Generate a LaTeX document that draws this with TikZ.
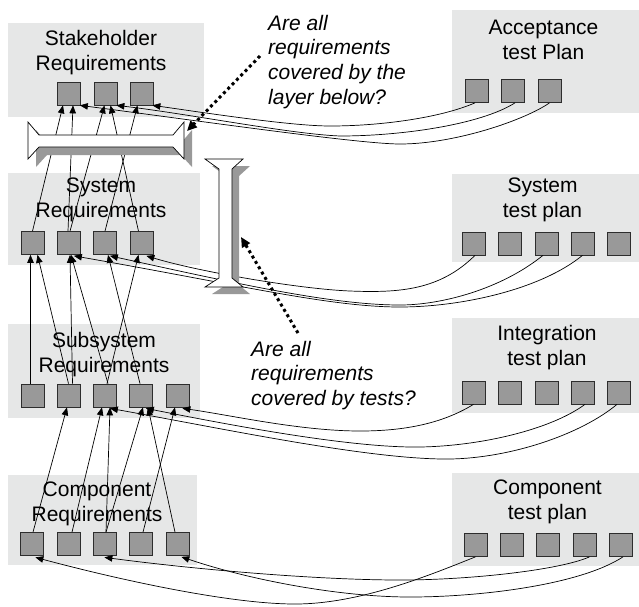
\documentclass[tikz,border=0pt]{standalone}
\usepackage{fontspec}
\setmainfont{Liberation Sans}
\usetikzlibrary{arrows.meta}
\definecolor{boxbg}{RGB}{230,231,231}
\definecolor{sqfill}{RGB}{153,153,153}
\definecolor{sqline}{RGB}{45,45,45}
\definecolor{shade}{RGB}{153,153,153}
\begin{document}
\begin{tikzpicture}[x=1pt,y=-1pt,
  panel/.style={fill=boxbg, draw=none, inner sep=0pt},
  sq/.style={draw=sqline, fill=sqfill, minimum size=23pt, inner sep=0pt, line width=0.7pt},
  lbl/.style={align=center, anchor=north, inner sep=0pt, font=\fontsize{21}{25}\selectfont},
  qtext/.style={align=left, anchor=north west, inner sep=0pt, font=\fontsize{21}{24.8}\selectfont\itshape},
  link/.style={-{Triangle[length=8pt,width=6.5pt]}, line width=0.7pt},
  beam/.style={draw=black, fill=white, line width=0.7pt},
  beamshadow/.style={fill=shade, draw=none},
  dotarrow/.style={line width=3pt, dash pattern=on 3pt off 3.2pt, -{Triangle[length=10pt,width=9pt]}}
]
\useasboundingbox (0,0) rectangle (639,606);

% panels
\node[panel, minimum width=196pt, minimum height=94pt] (shbox) at (106,70) {};
\node[panel, minimum width=192pt, minimum height=92pt] (sysbox) at (104,219) {};
\node[panel, minimum width=192pt, minimum height=94pt] (subbox) at (104,371) {};
\node[panel, minimum width=189pt, minimum height=90pt] (compbox) at (102.5,520) {};
\node[panel, minimum width=187pt, minimum height=103pt] (accbox) at (545.5,61.5) {};
\node[panel, minimum width=187pt, minimum height=88pt] (stbox) at (545.5,218) {};
\node[panel, minimum width=187pt, minimum height=95pt] (itbox) at (545.5,365.5) {};
\node[panel, minimum width=187pt, minimum height=93pt] (ctbox) at (545.5,519.5) {};

% labels
\node[lbl] (shlbl) at (101,29.7) {Stakeholder\\Requirements};
\node[lbl] (syslbl) at (101,177.7) {System\\Requirements};
\node[lbl] (sublbl) at (104,331.7) {Subsystem\\Requirements};
\node[lbl] (complbl) at (97,481.7) {Component\\Requirements};
\node[lbl] (acclbl) at (543.5,19.7) {Acceptance\\test Plan};
\node[lbl] (stlbl) at (542.5,177.7) {System\\test plan};
\node[lbl] (itlbl) at (547,324.7) {Integration\\test plan};
\node[lbl] (ctlbl) at (547.5,479.7) {Component\\test plan};

% squares
\foreach \n/\x in {1/69,2/105.5,3/141.5} \node[sq] (sh\n) at (\x,93.5) {};
\foreach \n/\x in {1/32.5,2/69,3/105,4/141.5} \node[sq] (sys\n) at (\x,243) {};
\foreach \n/\x in {1/32.5,2/68.5,3/105,4/141,5/177.5} \node[sq] (sub\n) at (\x,395.5) {};
\foreach \n/\x in {1/31.5,2/68.5,3/104.5,4/140.5,5/177.5} \node[sq] (comp\n) at (\x,544) {};
\foreach \n/\x in {1/476.5,2/512.5,3/549.5} \node[sq] (acc\n) at (\x,91) {};
\foreach \n/\x in {1/473.5,2/509.5,3/546.5,4/582.5,5/618.5} \node[sq] (st\n) at (\x,243.5) {};
\foreach \n/\x in {1/473.5,2/509.5,3/546.5,4/582.5,5/618.5} \node[sq] (it\n) at (\x,392.5) {};
\foreach \n/\x in {1/475.5,2/511.5,3/547.5,4/584.5,5/620.5} \node[sq] (ct\n) at (\x,545) {};

% system -> stakeholder
\draw[link] (sys1.north) -- ([xshift=-6pt]sh1.south);
\draw[link] ([xshift=-1pt]sys2.north) -- ([xshift=4pt]sh1.south);
\draw[link] ([xshift=1pt]sys2.north) -- ([xshift=-1pt]sh2.south);
\draw[link] (sys3.north) -- ([xshift=-4pt]sh3.south);
\draw[link] ([xshift=-3pt]sys4.north) -- ([xshift=5pt]sh2.south);

% subsystem -> system
\draw[link] ([xshift=-2pt]sub1.north) -- ([xshift=-2pt]sys1.south);
\draw[link] (sub2.north) -- ([xshift=5pt]sys1.south);
\draw[link] ([xshift=4pt]sub2.north) -- ([xshift=1pt]sys2.south);
\draw[link] ([xshift=3pt]sub3.north) -- ([xshift=2pt]sys2.south);
\draw[link] ([xshift=2pt]sub3.north) -- ([xshift=-3pt]sys4.south);
\draw[link] ([xshift=-1pt]sub4.north) -- ([xshift=3pt]sys3.south);

% component -> subsystem
\draw[link] ([xshift=1.5pt]comp1.north) -- ([xshift=-1.5pt]sub2.south);
\draw[link] ([xshift=3.5pt]comp2.north) -- ([xshift=-3pt]sub3.south);
\draw[link] ([xshift=1.5pt]comp3.north) -- ([xshift=5pt]sub3.south);
\draw[link] ([xshift=1.5pt]comp3.north) -- ([xshift=2pt]sub4.south);
\draw[link] ([xshift=-2.5pt]comp5.north) -- ([xshift=7pt]sub4.south);
\draw[link] ([xshift=2.5pt]comp4.north) -- ([xshift=-2.5pt]sub5.south);

% acceptance -> stakeholder
\draw[link] ([xshift=-1.5pt]acc1.south) .. controls (440,118) and (380,126) .. (330,126)
  .. controls (290,126) and (200,112) .. ([xshift=-1pt]sh3.south east);
\draw[link] ([xshift=2.5pt]acc2.south) .. controls (480,125) and (400,136) .. (340,136)
  .. controls (290,134) and (190,114) .. ([xshift=-1pt]sh2.south east);
\draw[link] (acc3.south) .. controls (525,120) and (455,144) .. (400,144)
  .. controls (360,144) and (200,121) .. ([xshift=-1pt]sh1.south east);

% system test -> system
\draw[link] ([xshift=1.5pt]st1.south) .. controls (440,290) and (400,293) .. (350,291)
  .. controls (300,289) and (200,272) .. ([xshift=-7pt,yshift=-1pt]sys4.south east);
\draw[link] ([xshift=-3.5pt]st3.south) .. controls (500,290) and (440,305) .. (400,305)
  .. controls (330,305) and (230,282) .. ([xshift=-7pt,yshift=-1pt]sys3.south east);
\draw[link] (st4.south) .. controls (540,290) and (460,307) .. (400,307)
  .. controls (330,307) and (240,285) .. ([xshift=-7pt,yshift=-1pt]sys2.south east);

% integration -> subsystem
\draw[link] (it1.south) .. controls (440,425) and (400,431) .. (360,431)
  .. controls (300,431) and (230,415) .. ([xshift=-7pt,yshift=-1pt]sub5.south east);
\draw[link] ([xshift=2.5pt]it4.south) .. controls (550,430) and (480,446) .. (420,447)
  .. controls (350,448) and (230,425) .. ([xshift=-7pt,yshift=-1pt]sub4.south east);
\draw[link] ([xshift=-1.5pt]it5.south) .. controls (580,435) and (510,458) .. (450,459)
  .. controls (370,460) and (220,428) .. ([xshift=-7pt,yshift=-1pt]sub3.south east);

% component test -> component
\draw[link] (ct1.south) .. controls (430,575) and (360,604) .. (295,604)
  .. controls (230,604) and (120,580) .. ([xshift=-8pt,yshift=-1.5pt]comp1.south east);
\draw[link] ([xshift=5pt]ct4.south) .. controls (560,570) and (470,580) .. (400,580)
  .. controls (320,580) and (200,570) .. ([xshift=-12pt,yshift=-1.5pt]comp3.south east);
\draw[link] ([xshift=2.5pt]ct5.south) .. controls (580,585) and (480,597) .. (410,597)
  .. controls (340,597) and (250,580) .. ([xshift=-8pt,yshift=-1pt]comp5.south east);

% horizontal beam
\fill[beamshadow, shift={(8,8)}] (28,122) -- (39,135) -- (173,135) -- (184,122) -- (184,159) -- (173,147) -- (39,147) -- (28,159) -- cycle;
\draw[beam] (28,122) -- (39,135) -- (173,135) -- (184,122) -- (184,159) -- (173,147) -- (39,147) -- (28,159) -- cycle;

% vertical beam
\fill[beamshadow, shift={(7,7)}] (205,159) -- (243,159) -- (232,169) -- (232,278) -- (243,287) -- (205,287) -- (219,278) -- (219,169) -- cycle;
\draw[beam] (205,159) -- (243,159) -- (232,169) -- (232,278) -- (243,287) -- (205,287) -- (219,278) -- (219,169) -- cycle;

% questions
\node[qtext] (q1) at (268,14.7) {Are all\\requirements\\covered by the\\layer below?};
\node[qtext] (q2) at (251,340.7) {Are all\\requirements\\covered by tests?};

\coordinate (q1from) at (260,56);
\coordinate (q1to) at (187,131);
\coordinate (q2from) at (298,333);
\coordinate (q2to) at (241,237);
\draw[dotarrow] (q1from) -- (q1to);
\draw[dotarrow] (q2from) -- (q2to);
\end{tikzpicture}
\end{document}
